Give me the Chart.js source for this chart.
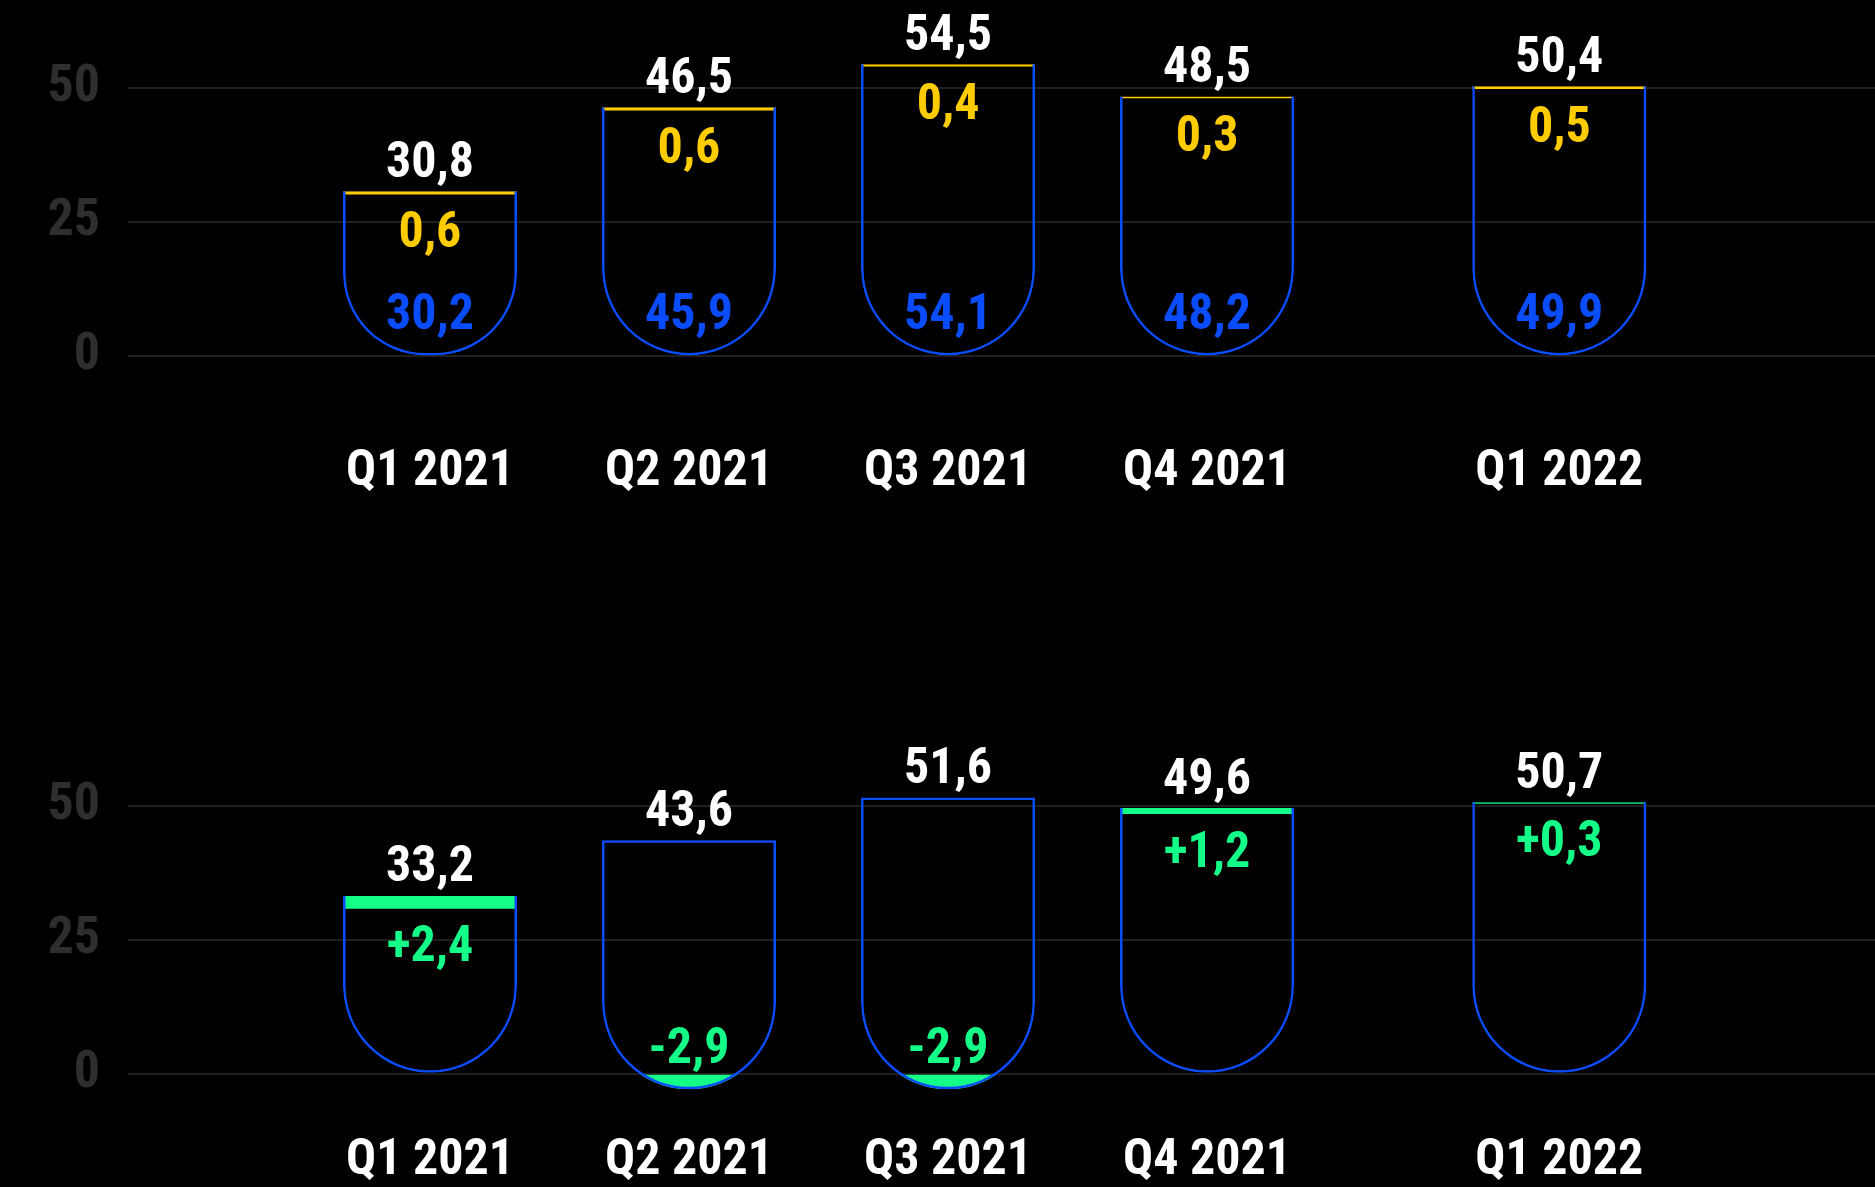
<!DOCTYPE html>
<html>
<head>
<meta charset="UTF-8">
<title>Quarterly values</title>
<script src="https://cdn.jsdelivr.net/npm/chart.js"></script>
<style>
  html, body { margin: 0; padding: 0; background: #000; }
  body { width: 1875px; height: 1187px; position: relative; overflow: hidden; }
  .panel { position: absolute; left: 0; width: 1875px; }
  #top { top: 0; height: 499px; }
  #bottom { top: 700px; height: 487px; }
</style>
</head>
<body>
<div class="panel" id="top"><canvas id="topChart"></canvas></div>
<div class="panel" id="bottom"><canvas id="bottomChart"></canvas></div>
<script>
// Data
const quarters   = ['Q1 2021', 'Q2 2021', 'Q3 2021', 'Q4 2021', 'Q1 2022'];
const baseValues = [30.2, 45.9, 54.1, 48.2, 49.9];   // blue part
const addValues  = [0.6, 0.6, 0.4, 0.3, 0.5];        // yellow part
const totals     = [30.8, 46.5, 54.5, 48.5, 50.4];   // top panel totals
const changes    = [2.4, -2.9, -2.9, 1.2, 0.3];      // green change
const adjTotals  = [33.2, 43.6, 51.6, 49.6, 50.7];   // bottom panel totals
const yTicks     = [0, 25, 50];

// Colours / fonts
const BLUE = '#0a4cff';
const YELLOW = '#ffcc00';
const GREEN = '#14ff88';
const WHITE = '#ffffff';
const TICK_GREY = '#2e2e2e';
const GRID_GREY = '#202020';
const FONT_FAMILY = "'Roboto Condensed', 'Liberation Sans Narrow', 'DejaVu Sans Condensed', Roboto, sans-serif";

// Layout
const BAR_W = 174;
const RADIUS = 87;
const GAP_2022 = 0.36;          // extra space before the 2022 quarter
const X_MIN = -1.166, X_MAX = 5.579;
const Y_MIN = -3, Y_MAX = 60;
const ABOVE_TOP = 27, BELOW_SEG = 40, ABOVE_BOTTOM = 39;   // label offsets, px

const xPos = quarters.map((q, i) => i + (q.endsWith('2022') ? GAP_2022 : 0));

const fmt = v => v.toFixed(1).replace('.', ',');
const fmtSigned = v => (v > 0 ? '+' : '') + fmt(v);

Chart.defaults.font.family = FONT_FAMILY;
Chart.defaults.font.weight = 'bold';

function geom(el) {
    const p = el.getProps(['x', 'y', 'base', 'width'], true);
    return {
        x: p.x,
        left: p.x - p.width / 2,
        right: p.x + p.width / 2,
        top: Math.min(p.y, p.base),
        bottom: Math.max(p.y, p.base)
    };
}

function outlinePath(ctx, el) {
    const g = geom(el);
    const r = Math.min(RADIUS, (g.right - g.left) / 2, (g.bottom - g.top) / 2);
    ctx.moveTo(g.left, g.top);
    ctx.lineTo(g.right, g.top);
    ctx.lineTo(g.right, g.bottom - r);
    ctx.arc(g.right - r, g.bottom - r, r, 0, Math.PI / 2);
    ctx.lineTo(g.left + r, g.bottom);
    ctx.arc(g.left + r, g.bottom - r, r, Math.PI / 2, Math.PI);
    ctx.closePath();
}

// clip the coloured segments to the U shaped outline of dataset 0
const clipToOutline = {
    id: 'clipToOutline',
    beforeDatasetDraw(chart, args) {
        if (!chart.data.datasets[args.index].clipToOutline) return;
        const ctx = chart.ctx;
        ctx.save();
        ctx.beginPath();
        chart.getDatasetMeta(0).data.forEach(el => outlinePath(ctx, el));
        ctx.clip();
    },
    afterDatasetDraw(chart, args) {
        if (chart.data.datasets[args.index].clipToOutline) chart.ctx.restore();
    }
};

function labelPlugin(getLabels) {
    return {
        id: 'valueLabels',
        afterDatasetsDraw(chart) {
            const ctx = chart.ctx;
            const ys = chart.scales.y;
            ctx.save();
            ctx.font = 'bold 50px ' + FONT_FAMILY;
            ctx.textAlign = 'center';
            ctx.textBaseline = 'middle';
            chart.getDatasetMeta(0).data.forEach((el, i) => {
                const g = geom(el);
                getLabels(i, g, ys).forEach(([text, color, y]) => {
                    ctx.fillStyle = color;
                    ctx.fillText(text, g.x, y);
                });
            });
            ctx.restore();
        }
    };
}

function outlineDataset(data, skipped) {
    return {
        data: data,
        backgroundColor: 'rgba(0,0,0,0)',
        borderColor: BLUE,
        borderWidth: 2.5,
        borderSkipped: skipped,
        borderRadius: { topLeft: 0, topRight: 0, bottomLeft: RADIUS, bottomRight: RADIUS },
        inflateAmount: 0,
        barThickness: BAR_W,
        grouped: false,
        clip: false
    };
}

function fillDataset(data, color) {
    return {
        data: data,
        backgroundColor: color,
        borderWidth: 0,
        inflateAmount: 0,
        barThickness: BAR_W,
        grouped: false,
        clip: false,
        clipToOutline: true
    };
}

function makeChart(id, datasets, padTop, xHeight, xPad, getLabels) {
    return new Chart(document.getElementById(id), {
        type: 'bar',
        data: { datasets: datasets },
        options: {
            responsive: true,
            maintainAspectRatio: false,
            animation: false,
            layout: { padding: { top: padTop, right: 0, bottom: 0, left: 0 } },
            plugins: { legend: { display: false }, tooltip: { enabled: false } },
            scales: {
                x: {
                    type: 'linear',
                    min: X_MIN, max: X_MAX,
                    offset: false,
                    afterBuildTicks: s => { s.ticks = xPos.map(v => ({ value: v })); },
                    afterFit: s => { s.height = xHeight; s.paddingLeft = 0; s.paddingRight = 0; },
                    grid: { display: false, drawTicks: false },
                    border: { display: false },
                    ticks: {
                        autoSkip: false, maxRotation: 0, minRotation: 0,
                        color: WHITE,
                        font: { size: 50, weight: 'bold' },
                        padding: xPad,
                        callback: (v, i) => quarters[i]
                    }
                },
                y: {
                    min: Y_MIN, max: Y_MAX,
                    afterBuildTicks: s => { s.ticks = yTicks.map(v => ({ value: v })); },
                    afterFit: s => { s.width = 128; s.paddingTop = 0; s.paddingBottom = 0; },
                    grid: { color: GRID_GREY, lineWidth: 2, drawTicks: false },
                    border: { display: false },
                    ticks: {
                        color: TICK_GREY,
                        font: { size: 52, weight: 'bold' },
                        padding: 28
                    }
                }
            }
        },
        plugins: [clipToOutline, labelPlugin(getLabels)]
    });
}

// Top panel: blue part + yellow part
makeChart('topChart', [
    outlineDataset(xPos.map((x, i) => ({ x: x, y: [0, totals[i]] })), 'top'),
    fillDataset(xPos.map((x, i) => ({ x: x, y: [baseValues[i], totals[i]] })), YELLOW)
], 34.9, 126.5, 70, (i, g, ys) => [
    [fmt(totals[i]), WHITE, g.top - ABOVE_TOP],
    [fmt(addValues[i]), YELLOW, ys.getPixelForValue(baseValues[i]) + BELOW_SEG],
    [fmt(baseValues[i]), BLUE, g.bottom - ABOVE_BOTTOM]
]);

// Bottom panel: previous total + change
makeChart('bottomChart', [
    outlineDataset(
        xPos.map((x, i) => ({ x: x, y: [Math.min(0, changes[i]), adjTotals[i]] })),
        ctx => (changes[ctx.dataIndex] > 0 ? 'top' : false)
    ),
    fillDataset(
        xPos.map((x, i) => ({ x: x, y: changes[i] > 0 ? [totals[i], adjTotals[i]] : [changes[i], 0] })),
        GREEN
    )
], 52.4, 97.1, 42, (i, g, ys) => [
    [fmt(adjTotals[i]), WHITE, g.top - ABOVE_TOP],
    changes[i] > 0
        ? [fmtSigned(changes[i]), GREEN, ys.getPixelForValue(totals[i]) + BELOW_SEG]
        : [fmtSigned(changes[i]), GREEN, g.bottom - ABOVE_BOTTOM]
]);
</script>
</body>
</html>
